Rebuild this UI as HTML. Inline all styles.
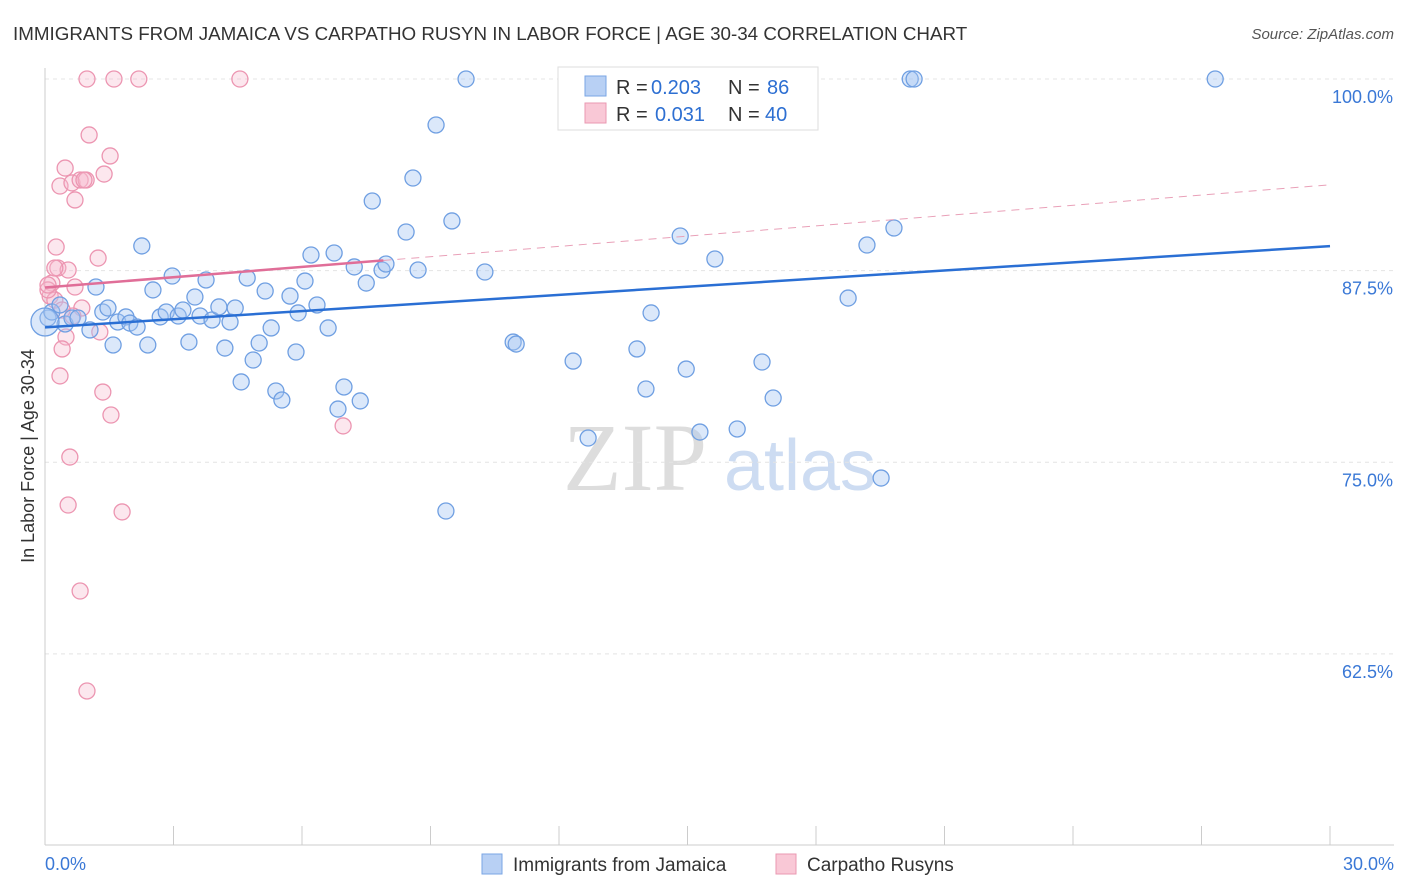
<!DOCTYPE html>
<html><head><meta charset="utf-8"><style>
body{margin:0;background:#fff;font-family:"Liberation Sans",sans-serif;}
svg{display:block}
</style></head><body>
<svg id="chart" width="1406" height="892" viewBox="0 0 1406 892">
<text x="13" y="40" font-size="18.8" fill="#333">IMMIGRANTS FROM JAMAICA VS CARPATHO RUSYN IN LABOR FORCE | AGE 30-34 CORRELATION CHART</text>
<text x="1394" y="39" font-size="15" fill="#555" font-style="italic" text-anchor="end">Source: ZipAtlas.com</text>
<g>
<text x="635" y="490" font-size="96" fill="#ddd" font-family="Liberation Serif,serif" text-anchor="middle">ZIP</text>
<text x="800" y="490" font-size="72" fill="#cddcf2" text-anchor="middle">atlas</text>
</g>
<g id="grid"></g>
<g id="axes"></g>
<g id="pts"></g>
<g id="trends"></g>
<text transform="translate(34,456) rotate(-90)" font-size="18" fill="#333" text-anchor="middle">In Labor Force | Age 30-34</text>
<g>
<rect x="558" y="67" width="260" height="63" fill="#fff" stroke="#ddd"/>
<rect x="585" y="76" width="21" height="20" fill="#b8d0f4" stroke="#7aa6e4"/>
<rect x="585" y="103" width="21" height="20" fill="#f9c8d6" stroke="#ea98b2"/>
<text x="616" y="94" font-size="20" fill="#333">R =</text>
<text x="651" y="94" font-size="20" fill="#2d6fd2">0.203</text>
<text x="728" y="94" font-size="20" fill="#333">N =</text>
<text x="767" y="94" font-size="20" fill="#2d6fd2">86</text>
<text x="616" y="121" font-size="20" fill="#333">R =</text>
<text x="655" y="121" font-size="20" fill="#2d6fd2">0.031</text>
<text x="728" y="121" font-size="20" fill="#333">N =</text>
<text x="765" y="121" font-size="20" fill="#2d6fd2">40</text>
</g>
<g>
<rect x="482" y="854" width="20" height="20" fill="#b8d0f4" stroke="#7aa6e4"/>
<text x="513" y="871" font-size="19" fill="#333">Immigrants from Jamaica</text>
<rect x="776" y="854" width="20" height="20" fill="#f9c8d6" stroke="#ea98b2"/>
<text x="807" y="871" font-size="19" fill="#333">Carpatho Rusyns</text>
</g>
</svg>
<script>
const yTicks=[100,87.5,75,62.5];
const yTickLabels=["100.0%","87.5%","75.0%","62.5%"];
const xTickLabels=["0.0%","30.0%"];
const blueX=[0.07,0.16,0.35,0.47,0.63,0.77,1.05,1.19,1.35,1.47,1.59,1.70,1.89,1.98,2.15,2.26,2.40,2.52,2.69,2.83,2.97,3.11,3.22,3.36,3.50,3.62,3.76,3.90,4.06,4.20,4.32,4.44,4.58,4.72,4.86,5.00,5.14,5.28,5.39,5.53,5.72,5.86,5.91,6.07,6.21,6.35,6.61,6.75,6.84,6.98,7.22,7.36,7.50,7.64,7.87,7.96,8.43,8.59,8.71,9.13,9.36,9.50,9.83,10.27,10.93,11.00,12.33,12.68,13.82,14.03,14.15,14.83,14.97,15.29,15.64,16.16,16.74,17.00,18.75,19.19,19.52,19.82,20.20,20.29,27.32,0.0];
const blueY=[84.41,84.80,85.26,84.02,84.41,84.41,83.63,86.43,84.80,85.06,82.65,84.15,84.48,84.08,83.82,89.11,82.65,86.24,84.48,84.80,87.15,84.54,84.93,82.84,85.78,84.54,86.89,84.28,85.13,82.45,84.15,85.06,80.24,87.02,81.67,82.78,86.17,83.76,79.65,79.06,85.84,82.19,84.74,86.82,88.52,85.26,83.76,88.65,78.47,79.91,87.74,79.00,86.69,92.04,87.54,87.93,90.02,93.54,87.54,97.00,71.82,90.74,100,87.41,82.84,82.71,81.60,76.58,82.39,79.78,84.74,89.76,81.08,76.97,88.26,77.17,81.54,79.19,85.71,89.17,73.97,90.28,100,100,100,84.15];
const pinkX=[0.98,1.61,2.19,4.55,1.03,1.52,0.47,1.38,0.35,0.63,0.82,0.96,0.70,0.26,1.24,0.30,0.54,0.16,0.70,0.12,0.23,0.86,1.28,0.49,0.40,0.35,1.35,1.54,6.96,0.58,0.54,1.80,0.82,0.98,0.65,0.07,0.23,0.07,0.40,0.91];
const pinkY=[100,100,100,100,96.35,94.98,94.19,93.80,93.02,93.22,93.41,93.41,92.11,89.04,88.32,87.67,87.54,86.69,86.43,85.84,85.58,85.06,83.50,83.17,82.39,80.63,79.58,78.08,77.37,75.34,72.21,71.76,66.60,60.08,84.54,86.24,87.67,86.56,84.93,93.41];
const blueTrend=[83.8,89.1];
const pinkTrend=[86.4,93.1];
const pinkSolidEnd=7.9;

const NS="http://www.w3.org/2000/svg";
const X=v=>45+v/30*1285;
const Y=v=>79+(100-v)*15.33;
function mk(tag,attrs,parent){const e=document.createElementNS(NS,tag);for(const k in attrs)e.setAttribute(k,attrs[k]);parent.appendChild(e);return e;}
const grid=document.getElementById('grid'),axes=document.getElementById('axes'),pts=document.getElementById('pts'),tr=document.getElementById('trends');
yTicks.forEach((t,i)=>{
 const l=mk('line',{x1:45,x2:1394,y1:Y(t),y2:Y(t),stroke:'#e4e4e4','stroke-dasharray':'4,4'},grid);
 
 
 const tx=mk('text',{x:1393,y:Y(t)+24,'font-size':18,fill:'#3a78d6','text-anchor':'end'},axes);
 tx.textContent=yTickLabels[i];
 
 
});
const ax=mk('line',{x1:45,x2:1394,y1:845,y2:845,stroke:'#ccc'},axes);


const ay=mk('line',{x1:45,x2:45,y1:68,y2:845,stroke:'#ccc'},axes);


for(let i=0;i<=10;i++){
 const t=mk('line',{x1:X(i*3),x2:X(i*3),y1:826,y2:845,stroke:'#ccc'},axes);
 
 
}
const xl0=mk('text',{x:45,y:870,'font-size':18,fill:'#3a78d6'},axes);xl0.textContent=xTickLabels[0];


const xl1=mk('text',{x:1394,y:870,'font-size':18,fill:'#3a78d6','text-anchor':'end'},axes);xl1.textContent=xTickLabels[1];


pinkX.forEach((v,i)=>{
 const c=mk('circle',{cx:X(v),cy:Y(pinkY[i]),r:8,fill:'rgba(247,185,205,0.35)',stroke:'#ec95b1','stroke-width':1.3},pts);
 
 
});
blueX.forEach((v,i)=>{
 const c=mk('circle',{cx:X(v),cy:Y(blueY[i]),r:i===blueX.length-1?14:8,fill:'rgba(165,198,242,0.4)',stroke:'#6f9fe2','stroke-width':1.3},pts);
 
 
});
const py=v=>pinkTrend[0]+(pinkTrend[1]-pinkTrend[0])*v/30;
const pd=mk('line',{x1:X(pinkSolidEnd),y1:Y(py(pinkSolidEnd)),x2:X(30),y2:Y(pinkTrend[1]),stroke:'#e9a0b8','stroke-width':1,'stroke-dasharray':'8,6'},tr);


const ps=mk('line',{x1:X(0),y1:Y(pinkTrend[0]),x2:X(pinkSolidEnd),y2:Y(py(pinkSolidEnd)),stroke:'#e06e98','stroke-width':2.5},tr);


const bl=mk('line',{x1:X(0),y1:Y(blueTrend[0]),x2:X(30),y2:Y(blueTrend[1]),stroke:'#2a6fd4','stroke-width':2.5},tr);


</script>
</body></html>
